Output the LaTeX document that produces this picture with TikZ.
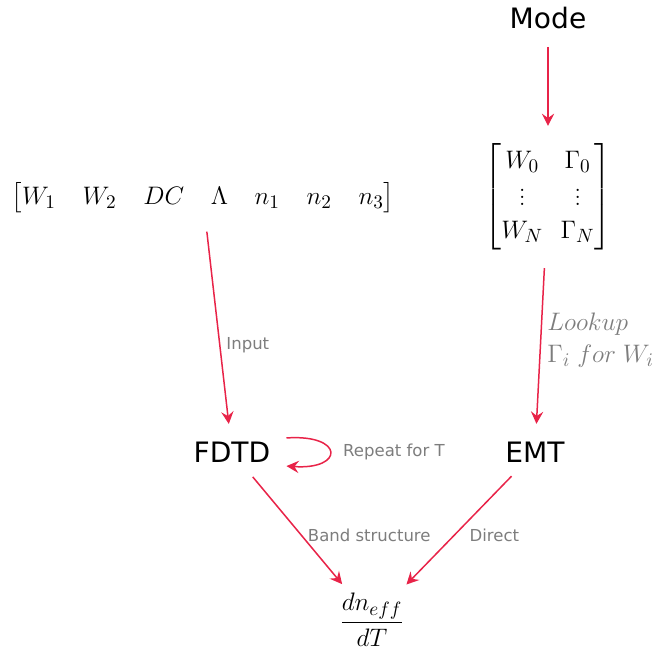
\documentclass[tikz,border=0pt]{standalone}
\usepackage{amsmath}
\usepackage{fontspec}
\newfontfamily\dejavu{DejaVu Sans}
\usetikzlibrary{arrows.meta,positioning}
\definecolor{arrred}{RGB}{232,35,72}
\definecolor{lblgray}{RGB}{125,125,125}

\begin{document}
\begin{tikzpicture}[
    x=0.02cm, y=-0.02cm,
    block/.style={font=\dejavu\fontsize{16}{19}\selectfont, inner sep=2pt},
    mathbox/.style={inner sep=2pt},
    arrow/.style={-{Stealth[length=7pt, width=7pt, inset=2.5pt]}, line width=0.85pt, draw=arrred, shorten >=8pt, shorten <=8pt},
    lbl/.style={font=\dejavu\fontsize{9.4}{11}\selectfont, text=lblgray, align=left}
]
\useasboundingbox (0,0) rectangle (660,662);

\node[block] (mode) at (548,18) {Mode};
\node[mathbox, font=\fontsize{15.5}{18.5}\selectfont] (table) at (548,197)
    {$\begin{bmatrix} W_0 & \Gamma_0 \\ \vdots & \vdots \\ W_N & \Gamma_N \end{bmatrix}$};
\node[mathbox, font=\fontsize{15}{18}\selectfont] (params) at (203,198)
    {\setlength{\arraycolsep}{7.6pt}$\begin{bmatrix} W_1 & W_2 & DC & \Lambda & n_1 & n_2 & n_3 \end{bmatrix}$};
\node[block] (fdtd) at (232,452) {FDTD};
\node[block] (emt) at (535,452) {EMT};
\node[mathbox, font=\fontsize{15}{18}\selectfont] (dndt) at (372,620)
    {$\displaystyle\frac{dn_{eff}}{dT}$};

\draw[arrow] (mode) -- (table);
\draw[arrow] (params) -- node[lbl, right, pos=0.58] {Input} (fdtd);
\draw[arrow] (table) -- node[right, pos=0.47, text=lblgray, align=left, font=\fontsize{15.5}{18}\selectfont] {$Lookup$\\ $\Gamma_i\; for\; W_i$} (emt);
\draw[arrow, shorten <=0pt, shorten >=0pt] ([xshift=7pt, yshift=8pt]fdtd.east)
    .. controls +(58,-4) and +(58,4) .. ([xshift=7pt, yshift=-8pt]fdtd.east);
\node[lbl, anchor=west] (repeat) at (337,452) {Repeat for T};
\draw[arrow, shorten >=4pt] (fdtd) -- node[lbl, right, pos=0.56] {Band structure} (dndt);
\draw[arrow, shorten >=4pt] (emt) -- node[lbl, right, pos=0.56, xshift=5pt] {Direct} (dndt);

\end{tikzpicture}
\end{document}
